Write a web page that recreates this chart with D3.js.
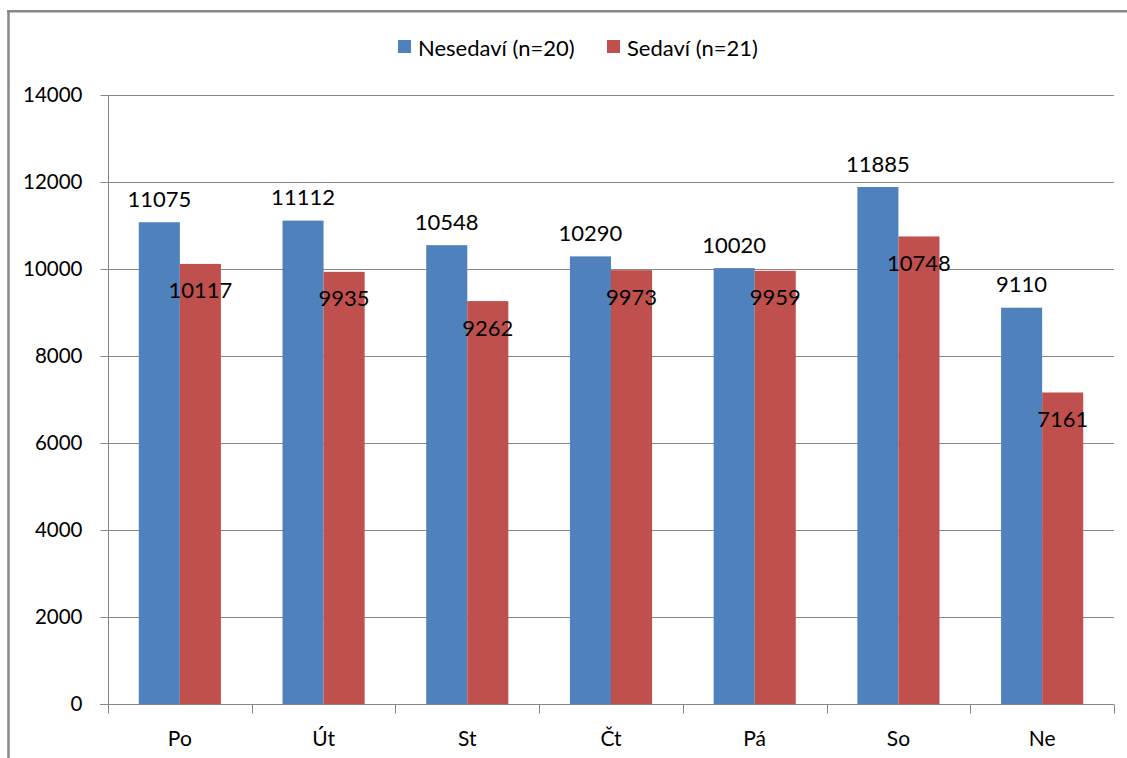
<!DOCTYPE html>
<html>
<head>
<meta charset="utf-8">
<script src="https://cdn.jsdelivr.net/npm/d3@7/dist/d3.min.js"></script>
<style>
  html, body { margin: 0; padding: 0; background: #fff; }
  svg text { font-family: Lato, "Open Sans", sans-serif; fill: #000; }
</style>
</head>
<body>
<svg id="chart" width="1127" height="758"></svg>
<script>
// Daily step counts by weekday
const days = ["Po", "Út", "St", "Čt", "Pá", "So", "Ne"];
const seriesNames = ["Nesedaví (n=20)", "Sedaví (n=21)"];
const nesedavi = [11075, 11112, 10548, 10290, 10020, 11885, 9110];
const sedavi = [10117, 9935, 9262, 9973, 9959, 10748, 7161];
const yTicks = [0, 2000, 4000, 6000, 8000, 10000, 12000, 14000];
const colors = ["#4F81BD", "#C0504D"];

const values = [nesedavi, sedavi];
const svg = d3.select("#chart");

// Outer frame
svg.append("line").attr("x1", 8.5).attr("x2", 8.5).attr("y1", 10).attr("y2", 758)
  .attr("stroke", "#898989").attr("stroke-width", 2.5);
svg.append("line").attr("x1", 7).attr("x2", 1127).attr("y1", 11.2).attr("y2", 11.2)
  .attr("stroke", "#898989").attr("stroke-width", 2.5);

const plot = { left: 108, right: 1114, top: 95, bottom: 704 };

const x = d3.scaleBand().domain(days).range([plot.left, plot.right]).padding(0);
const xs = d3.scaleBand().domain(d3.range(seriesNames.length))
  .range([0, x.bandwidth()]).paddingInner(0).paddingOuter(0.75);
const y = d3.scaleLinear().domain([0, 14000]).range([plot.bottom, plot.top]);

// Gridlines
svg.append("g").selectAll("line").data(yTicks.filter(d => d > 0)).join("line")
  .attr("x1", plot.left).attr("x2", plot.right)
  .attr("y1", d => Math.round(y(d)) + 0.5).attr("y2", d => Math.round(y(d)) + 0.5)
  .attr("stroke", "#878787").attr("stroke-width", 1);

// Bars
const groups = svg.append("g").selectAll("g").data(days).join("g")
  .attr("transform", d => `translate(${x(d)},0)`);

groups.selectAll("rect")
  .data((d, i) => values.map((v, s) => ({ s, v: v[i] })))
  .join("rect")
  .attr("x", d => xs(d.s))
  .attr("width", xs.bandwidth())
  .attr("y", d => y(d.v))
  .attr("height", d => y(0) - y(d.v))
  .attr("fill", d => colors[d.s]);

// Value labels: first series above the bar, second series inside the bar top
groups.selectAll("text.val")
  .data((d, i) => values.map((v, s) => ({ s, v: v[i] })))
  .join("text")
  .attr("class", "val")
  .attr("x", d => xs(d.s) + xs.bandwidth() / 2)
  .attr("y", d => d.s === 0 ? y(d.v) - 24 : y(d.v) + 26)
  .attr("text-anchor", "middle")
  .attr("dominant-baseline", "central")
  .attr("font-size", 22)
  .text(d => d.v);

// Y axis
const yAxis = svg.append("g").attr("transform", `translate(${plot.left + 0.5},0)`)
  .call(d3.axisLeft(y).tickValues(yTicks).tickSize(8).tickPadding(18).tickFormat(d => d));
yAxis.select(".domain").attr("stroke", "#878787").attr("d", `M0,${plot.top}V${plot.bottom}`);
yAxis.selectAll(".tick line").attr("stroke", "#878787");
yAxis.selectAll(".tick text").attr("font-size", 20.5).attr("font-family", "Lato, sans-serif");

// X axis with tick marks at category boundaries
const xAxisG = svg.append("g").attr("transform", `translate(0,${plot.bottom + 0.5})`);
xAxisG.append("line").attr("x1", plot.left - 8).attr("x2", plot.right)
  .attr("stroke", "#878787");
const boundaries = days.map(d => x(d)).concat([plot.right]);
xAxisG.selectAll("line.tk").data(boundaries).join("line").attr("class", "tk")
  .attr("x1", d => Math.round(d) + 0.5).attr("x2", d => Math.round(d) + 0.5)
  .attr("y1", 0).attr("y2", 9).attr("stroke", "#878787");
xAxisG.selectAll("text").data(days).join("text")
  .attr("x", d => x(d) + x.bandwidth() / 2)
  .attr("y", 33)
  .attr("text-anchor", "middle")
  .attr("dominant-baseline", "central")
  .attr("font-size", 21)
  .text(d => d);

// Legend
const legend = svg.append("g");
const legendX = [398, 607];
seriesNames.forEach((name, i) => {
  legend.append("rect").attr("x", legendX[i]).attr("y", 40).attr("width", 13).attr("height", 13)
    .attr("fill", colors[i]);
  legend.append("text").attr("x", legendX[i] + 20).attr("y", 47)
    .attr("dominant-baseline", "central").attr("font-size", 22).text(name);
});
</script>
</body>
</html>
